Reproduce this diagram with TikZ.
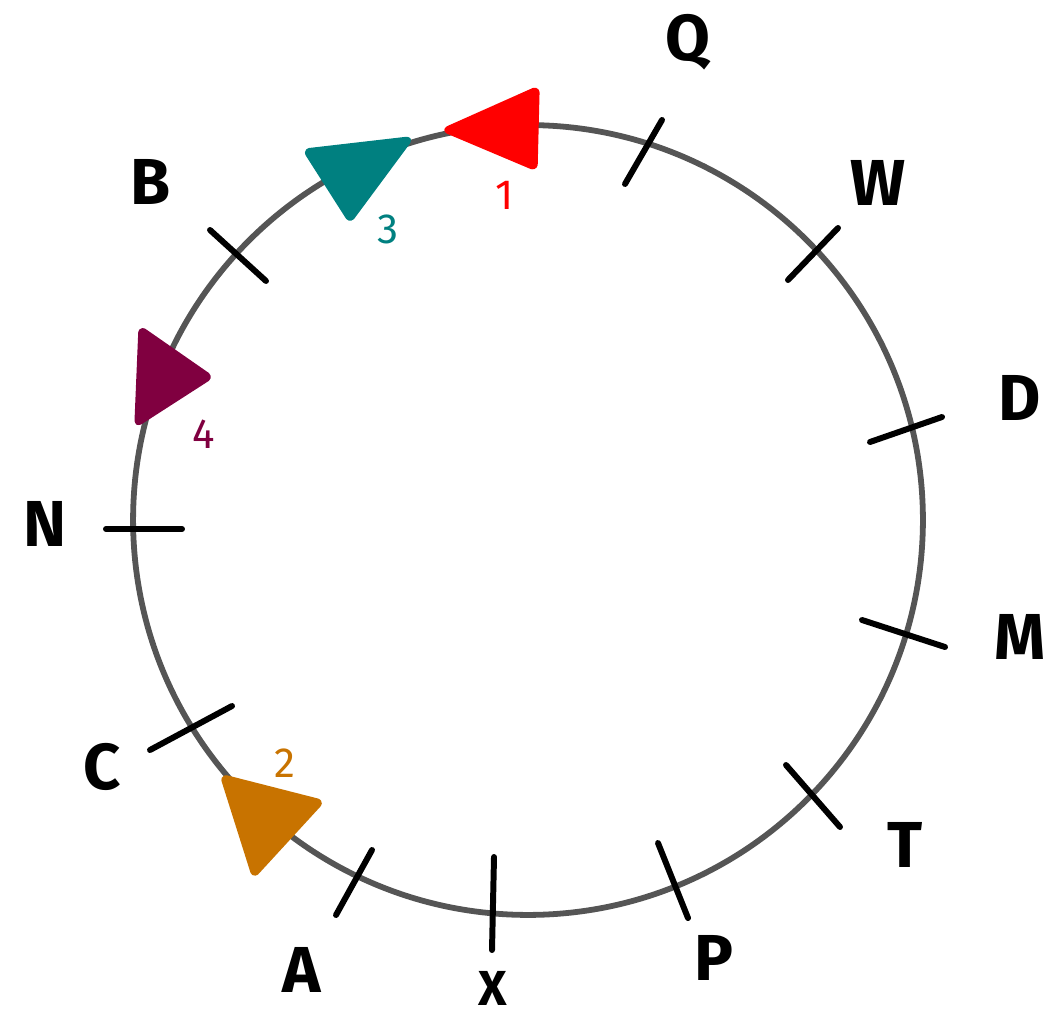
\documentclass[tikz,border=0pt]{standalone}
\usepackage{fontspec}
\setmainfont{Fira Sans}
\definecolor{ringgray}{RGB}{85,85,85}
\definecolor{tred}{RGB}{255,0,0}
\definecolor{tteal}{RGB}{0,128,128}
\definecolor{tpurple}{RGB}{128,0,64}
\definecolor{torange}{RGB}{200,115,0}
\begin{document}
\begin{tikzpicture}[x=0.02cm,y=-0.02cm,
  tick/.style={draw=black,line width=3.4pt,line cap=round},
  lbl/.style={font=\bfseries\fontsize{37}{40}\selectfont,inner sep=0pt},
  num/.style={font=\fontsize{24}{26}\selectfont,inner sep=0pt},
  tri/.style={line width=3pt,rounded corners=2pt,line join=round}]
\useasboundingbox (0,0) rectangle (1053,1016);
\node[circle,draw=ringgray,line width=3.3pt,minimum size=15.8cm,inner sep=0pt] (ring) at (528,520) {};
% ticks
\draw[tick] (625,184) -- (662,120);
\draw[tick] (788,280) -- (838,228);
\draw[tick] (870,442) -- (942,417);
\draw[tick] (862,620) -- (945,647);
\draw[tick] (786,765) -- (840,827);
\draw[tick] (658,843) -- (688,918);
\draw[tick] (494,857) -- (492,950);
\draw[tick] (372,850) -- (336,915);
\draw[tick] (150,750) -- (232,706);
\draw[tick] (106,529) -- (182,529);
\draw[tick] (210,230) -- (266,281);
% labels
\node[lbl] (lQ) at (688,42) {Q};
\node[lbl] (lW) at (878,183) {W};
\node[lbl] (lD) at (1020,398) {D};
\node[lbl] (lM) at (1020,637) {M};
\node[lbl] (lT) at (905,845) {T};
\node[lbl] (lP) at (714,958) {P};
\node[lbl,font=\bfseries\fontsize{28}{30}\selectfont] (lX) at (493,988) {X};
\node[lbl] (lA) at (302,970) {A};
\node[lbl] (lC) at (102,767) {C};
\node[lbl] (lN) at (45,524) {N};
\node[lbl] (lB) at (151,182) {B};
% triangles
\filldraw[tri,draw=tred,fill=tred] (445,130) -- (537,89) -- (535,168) -- cycle;
\filldraw[tri,draw=tteal,fill=tteal] (306,151) -- (410,139) -- (350,220) -- cycle;
\filldraw[tri,draw=tpurple,fill=tpurple] (141,329) -- (210,377) -- (137,424) -- cycle;
\filldraw[tri,draw=torange,fill=torange] (223,777) -- (321,802) -- (254,875) -- cycle;
\node[num,text=tred] (n1) at (505,195) {1};
\node[num,text=torange] (n2) at (285,763) {2};
\node[num,text=tteal] (n3) at (388,229) {3};
\node[num,text=tpurple] (n4) at (204,434) {4};
\end{tikzpicture}
\end{document}
